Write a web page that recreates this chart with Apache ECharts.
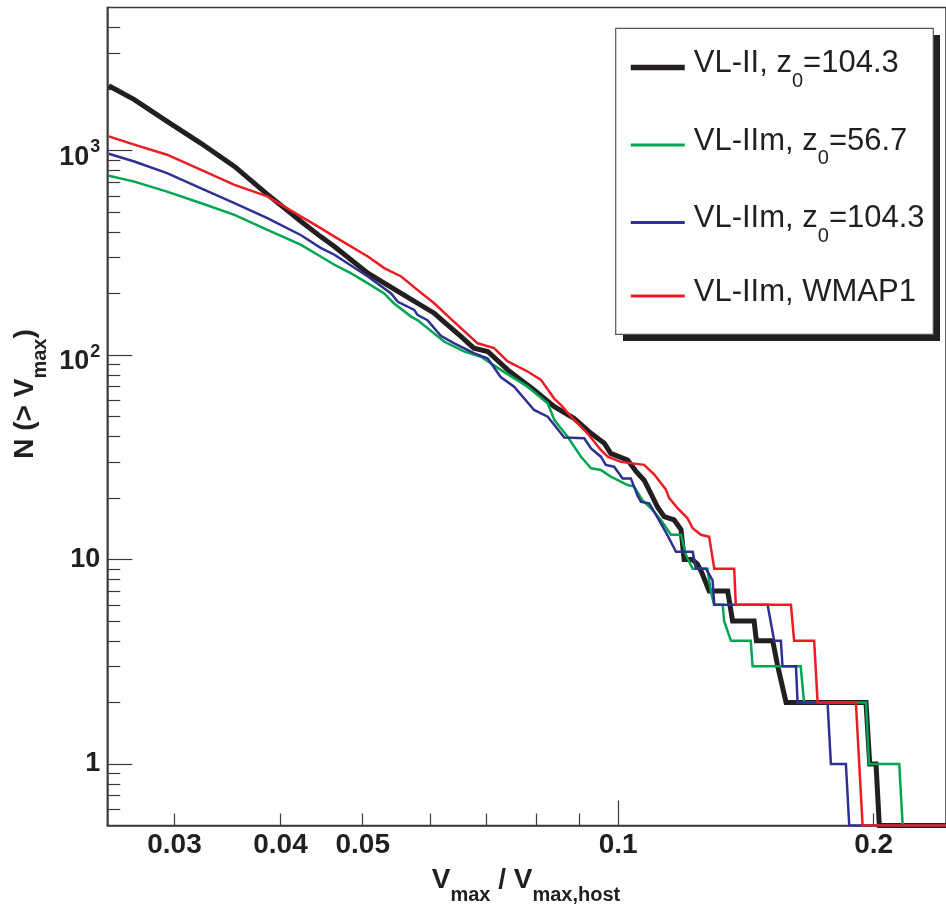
<!DOCTYPE html>
<html><head><meta charset="utf-8">
<script src="https://cdn.jsdelivr.net/npm/echarts@6/dist/echarts.min.js"></script>
<style>html,body{margin:0;padding:0;background:#fff}#c{width:946px;height:912px}</style>
</head><body><div id="c"></div>
<script>
// ---- data (Vmax/Vmax,host , N(>Vmax)) ----
const seriesNames = ['VL-II, z0=104.3', 'VL-IIm, z0=56.7', 'VL-IIm, z0=104.3', 'VL-IIm, WMAP1'];
const seriesColors = ['#231f20', '#00a651', '#2e3192', '#ed1c24'];
const seriesWidths = [5, 2.5, 2.5, 2.5];

const blackData = [[0.0251,2073],[0.0269,1771],[0.0294,1387],[0.0322,1087],[0.0353,835],[0.0386,610],[0.0423,449],[0.0446,379],[0.0463,339],[0.0507,251],[0.0555,200],[0.0607,160],[0.062,148],[0.065,125],[0.0676,108],[0.0702,104],[0.0741,84.5],[0.0796,67.4],[0.0841,55.8],[0.0887,49],[0.0929,41.4],[0.0963,37],[0.098,33],[0.1026,30.6],[0.1051,26.8],[0.1073,24.4],[0.1093,21],[0.1113,18],[0.1133,16.2],[0.1164,15.6],[0.1186,14],[0.1196,10],[0.1222,10],[0.124,9.5],[0.1255,8.6],[0.128,7],[0.1346,7],[0.1364,5],[0.1446,5],[0.1455,4],[0.1521,4],[0.1542,3],[0.1577,2],[0.1959,2],[0.1979,1],[0.2013,1],[0.2031,0.5],[0.25,0.5]];

const greenData = [[0.0251,752],[0.0269,704],[0.0294,629],[0.0322,553],[0.0353,484],[0.0386,409],[0.0423,345],[0.0446,303],[0.0463,276],[0.0484,251],[0.0507,224],[0.053,200],[0.0544,179],[0.057,154],[0.058,148],[0.0624,116],[0.0658,104],[0.0689,98],[0.0727,84.5],[0.0782,70],[0.0826,58],[0.0841,48],[0.0871,40],[0.0904,31.8],[0.0929,27.9],[0.0954,27.4],[0.098,25.4],[0.1007,24],[0.1026,23.1],[0.1044,22.7],[0.1068,19.5],[0.1093,17.8],[0.1123,15.6],[0.1154,13.2],[0.1186,13.2],[0.1202,10.5],[0.1224,9],[0.1274,9],[0.1286,7],[0.1297,6],[0.1328,6],[0.1333,5],[0.1358,4],[0.1433,4],[0.144,3],[0.1641,3],[0.1656,2],[0.1959,2],[0.1975,1],[0.2144,1],[0.2164,0.5],[0.25,0.5]];

const blueData = [[0.0251,963],[0.0269,883],[0.0294,774],[0.0322,654],[0.0353,553],[0.0386,467],[0.0423,385],[0.0446,334],[0.0463,309],[0.0507,242],[0.054,200],[0.055,182],[0.0575,166],[0.058,157],[0.0596,148],[0.0618,124],[0.0641,114],[0.0676,102],[0.0702,96],[0.0727,78],[0.0754,70],[0.0796,53.8],[0.0826,49.9],[0.0841,45.4],[0.0864,39.5],[0.0912,39.1],[0.0929,34.9],[0.0954,31.8],[0.0967,29],[0.0989,28.4],[0.1012,24.9],[0.1035,24.9],[0.1054,20.5],[0.1064,19.1],[0.1088,18.8],[0.1108,16.5],[0.114,13.4],[0.117,10.9],[0.1224,10.9],[0.1235,9],[0.1269,9],[0.1292,7.9],[0.1298,6],[0.15,6],[0.1527,4],[0.1555,4],[0.1562,3],[0.162,3],[0.1627,2],[0.1765,2],[0.1781,1],[0.1855,1],[0.1872,0.5],[0.25,0.5]];

const redData = [[0.0251,1171],[0.0269,1067],[0.0294,953],[0.0322,805],[0.0353,679],[0.0386,596],[0.0423,475],[0.0446,417],[0.0463,379],[0.0507,303],[0.053,266],[0.0555,242],[0.058,208],[0.0607,179],[0.0635,150],[0.0683,114],[0.0714,108],[0.0741,93],[0.0782,83],[0.0811,75.5],[0.0841,61],[0.0856,57],[0.088,50],[0.092,41.4],[0.0954,34.3],[0.0972,31.8],[0.1007,30],[0.1073,29],[0.1103,26],[0.1138,22],[0.1148,20],[0.1175,17.8],[0.1207,15.9],[0.1224,14.2],[0.1252,13.2],[0.128,12.9],[0.1298,9],[0.137,9],[0.1376,6],[0.1598,6],[0.1612,4],[0.1702,4],[0.1718,2],[0.1906,2],[0.1941,0.5],[0.25,0.5]];

// ---- axis ticks / labels ----
const xLabelValues = [0.03, 0.04, 0.05, 0.1, 0.2];
const xMajorTicks = [0.1];
const xMinorTicks = [0.03, 0.04, 0.05, 0.06, 0.07, 0.08, 0.09, 0.2];
const yLabelValues = [1, 10, 100, 1000];
const yMinorTicks = [0.6,0.7,0.8,0.9,2,3,4,5,6,7,8,9,20,30,40,50,60,70,80,90,200,300,400,500,600,700,800,900,2000,3000,4000];
const xRange = [0.025, 0.2434];
const yRange = [0.5, 5000];

const FONT = 'Liberation Sans, Arial, Helvetica, sans-serif';
const INK = '#231f20';
const AX = '#3a3a3a';

const allData = [blackData, greenData, blueData, redData];
const legendText = {
  'VL-II, z0=104.3': '{f|VL-II, z}{s|0}{a|=104.3}',
  'VL-IIm, z0=56.7': '{f|VL-IIm, z}{s|0}{a|=56.7}',
  'VL-IIm, z0=104.3': '{f|VL-IIm, z}{s|0}{a|=104.3}',
  'VL-IIm, WMAP1': '{f|VL-IIm, WMAP1}'
};

const chart = echarts.init(document.getElementById('c'), null, {renderer: 'canvas'});
const option = {
  animation: false,
  backgroundColor: '#fff',
  grid: {left: 107.3, top: 7.5, right: 0, bottom: 86.5, show: true, borderColor: AX, borderWidth: 1.5, containLabel: false},
  xAxis: [
    {type: 'log', logBase: 10, min: xRange[0], max: xRange[1],
     axisLine: {show: true, lineStyle: {color: AX, width: 1.5}},
     axisTick: {show: true, inside: true, length: 25, customValues: xMajorTicks, lineStyle: {color: AX, width: 1.2}},
     minorTick: {show: false}, splitLine: {show: false},
     axisLabel: {show: true, customValues: xLabelValues, margin: 6, fontSize: 28, fontWeight: 'bold', color: INK, fontFamily: FONT,
       formatter: v => String(+(+v).toPrecision(3))}},
    {type: 'log', logBase: 10, min: xRange[0], max: xRange[1], position: 'bottom',
     axisLine: {show: false},
     axisTick: {show: true, inside: true, length: 12, customValues: xMinorTicks, lineStyle: {color: AX, width: 1.2}},
     axisLabel: {show: false}, splitLine: {show: false}, minorTick: {show: false}}
  ],
  yAxis: [
    {type: 'log', logBase: 10, min: yRange[0], max: yRange[1],
     axisLine: {show: true, lineStyle: {color: AX, width: 1.5}},
     axisTick: {show: true, inside: true, length: 25, customValues: yLabelValues, lineStyle: {color: AX, width: 1.2}},
     minorTick: {show: false}, splitLine: {show: false},
     axisLabel: {show: true, customValues: yLabelValues, margin: 7, fontSize: 27, fontWeight: 'bold', color: INK, fontFamily: FONT,
       formatter: v => {
         const n = Math.round(+v);
         if (n >= 100) return '{b|10}{p|' + Math.round(Math.log10(n)) + '}';
         return String(n);
       },
       rich: {
         b: {fontSize: 27, fontWeight: 'bold', color: INK, fontFamily: FONT, lineHeight: 27, padding: [14, 0, 0, 0], verticalAlign: 'middle'},
         p: {fontSize: 18, fontWeight: 'bold', color: INK, fontFamily: FONT, lineHeight: 18, padding: [0, 0, 6, 1], verticalAlign: 'middle'}
       }}},
    {type: 'log', logBase: 10, min: yRange[0], max: yRange[1], position: 'left',
     axisLine: {show: false},
     axisTick: {show: true, inside: true, length: 13, customValues: yMinorTicks, lineStyle: {color: AX, width: 1.2}},
     axisLabel: {show: false}, splitLine: {show: false}, minorTick: {show: false}}
  ],
  legend: {
    orient: 'vertical', left: 628, top: 44, padding: 0,
    itemWidth: 54, itemHeight: 14, itemGap: 30.5, selectedMode: false, z: 10,
    itemStyle: {opacity: 0, borderWidth: 0},
    data: seriesNames.map((name, i) => ({name: name, lineStyle: {width: i === 0 ? 5.5 : 3, color: seriesColors[i]}})),
    formatter: name => legendText[name],
    textStyle: {
      color: INK, fontFamily: FONT, fontSize: 31,
      rich: {
        f: {fontSize: 31, lineHeight: 31, color: INK, fontFamily: FONT, padding: [0, 0, 8, 4], verticalAlign: 'middle'},
        a: {fontSize: 31, lineHeight: 31, color: INK, fontFamily: FONT, padding: [0, 0, 8, 0], verticalAlign: 'middle'},
        s: {fontSize: 20, lineHeight: 20, color: INK, fontFamily: FONT, padding: [27, 0, 0, 0], verticalAlign: 'middle'}
      }
    }
  },
  graphic: [
    {type: 'rect', z: 8, shape: {x: 623, y: 35, width: 317, height: 306}, style: {fill: INK}},
    {type: 'rect', z: 9, shape: {x: 615.7, y: 28.3, width: 317.6, height: 306}, style: {fill: '#fff', stroke: '#555', lineWidth: 1.2}},
    {type: 'text', z: 10, x: 25, y: 394, rotation: Math.PI / 2,
     style: {text: '{a|N (> V}{s|max}{a|)}', align: 'center', verticalAlign: 'middle',
       rich: {
         a: {fontSize: 28, lineHeight: 28, fontWeight: 'bold', fontFamily: FONT, fill: INK, verticalAlign: 'middle'},
         s: {fontSize: 20, lineHeight: 20, fontWeight: 'bold', fontFamily: FONT, fill: INK, padding: [31, 0, 0, 0], verticalAlign: 'middle'}
       }}},
    {type: 'text', z: 10, x: 526, y: 880,
     style: {text: '{a|V}{s|max}{a| / V}{s|max,host}', align: 'center', verticalAlign: 'middle',
       rich: {
         a: {fontSize: 28, lineHeight: 28, fontWeight: 'bold', fontFamily: FONT, fill: INK, verticalAlign: 'middle'},
         s: {fontSize: 20, lineHeight: 20, fontWeight: 'bold', fontFamily: FONT, fill: INK, padding: [31, 0, 0, 0], verticalAlign: 'middle'}
       }}}
  ],
  series: seriesNames.map((name, i) => ({
    name: name, type: 'line', xAxisIndex: 0, yAxisIndex: 0,
    data: allData[i], showSymbol: false, symbol: 'none', clip: true,
    lineStyle: {color: seriesColors[i], width: seriesWidths[i], join: 'miter'},
    itemStyle: {color: seriesColors[i]},
    emphasis: {disabled: true}, z: 2 + i
  }))
};
chart.setOption(option);
</script>
</body></html>
